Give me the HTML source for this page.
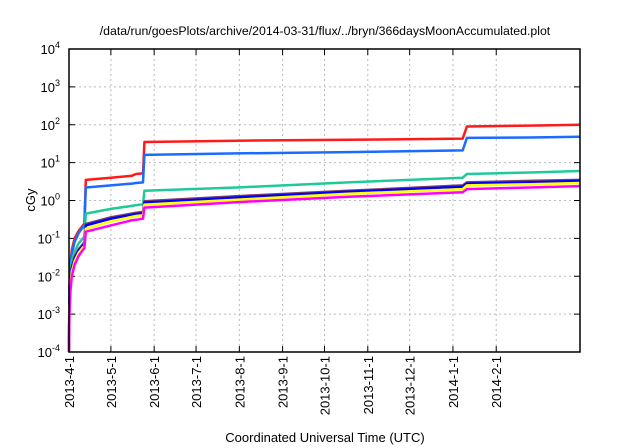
<!DOCTYPE html>
<html><head><meta charset="utf-8"><style>
body{margin:0;background:#fff;}
svg{display:block;font-family:"Liberation Sans",sans-serif;}
</style></head><body>
<svg id="chart" width="640" height="448"></svg>
<script>
const days=[0,0.3,1,2,4,7,10,11,12,30,45,48,53,54,120,200,282,285,330,366];
const redVals=[1e-4,0.005,0.02,0.05,0.1,0.16,0.22,0.25,3.5,4.0,4.5,5.0,5.2,35,38,40,43,90,95,100];
const blueVals=[1e-4,0.004,0.016,0.04,0.08,0.14,0.2,0.22,2.2,2.5,2.8,2.9,3.0,16,17.5,19,21,45,46,48];
const greenVals=[1e-4,0.003,0.012,0.025,0.045,0.075,0.1,0.11,0.45,0.6,0.72,0.75,0.8,1.8,2.2,3.0,4.0,5.0,5.5,6.0];
const brownVals=[1e-4,0.002,0.008,0.018,0.032,0.052,0.07,0.08,0.24,0.36,0.45,0.47,0.5,0.95,1.3,1.8,2.5,3.0,3.3,3.5];
const dblueVals=[1e-4,0.002,0.007,0.016,0.029,0.048,0.065,0.07,0.22,0.33,0.42,0.44,0.46,0.88,1.2,1.7,2.3,2.8,3.0,3.3];
const yellowVals=[1e-4,0.0015,0.006,0.013,0.025,0.042,0.058,0.062,0.18,0.28,0.37,0.39,0.41,0.78,1.05,1.5,2.0,2.5,2.7,2.9];
const magentaVals=[1e-4,0.001,0.004,0.01,0.02,0.035,0.05,0.055,0.15,0.22,0.3,0.31,0.33,0.65,0.9,1.25,1.65,2.0,2.2,2.4];
const seriesNames=['red','blue','green','brown','dark-blue','yellow','magenta'];
const seriesVals=[redVals,blueVals,greenVals,brownVals,dblueVals,yellowVals,magentaVals];
const seriesColors=['#ff1a1a','#1a6cff','#20c99a','#7a3a6a','#0000ff','#ffff00','#ff00ff'];
const monthLabels=['2013-4-1','2013-5-1','2013-6-1','2013-7-1','2013-8-1','2013-9-1','2013-10-1','2013-11-1','2013-12-1','2014-1-1','2014-2-1'];
const monthDays=[0,30,61,91,122,153,183,214,244,275,306];
const yExps=[-4,-3,-2,-1,0,1,2,3,4];

const L=69,R=580,T=49,B=352,DMAX=366;
const xS=d=>L+(R-L)*d/DMAX;
const yS=v=>T+(B-T)*(4-Math.log10(v))/8;
const svg=document.getElementById('chart');
const NS='http://www.w3.org/2000/svg';
function mk(tag,attrs,parent){const e=document.createElementNS(NS,tag);for(const k in attrs)e.setAttribute(k,attrs[k]);(parent||svg).appendChild(e);return e;}

const title=mk('text',{x:325,y:35,'text-anchor':'middle','font-size':12.3});
title.textContent='/data/run/goesPlots/archive/2014-03-31/flux/../bryn/366daysMoonAccumulated.plot';



yExps.forEach(e=>{
  const y=yS(Math.pow(10,e));
  if(e>-4&&e<4){const g=mk('line',{x1:L,x2:R,y1:y,y2:y,stroke:'#bbb','stroke-dasharray':'2,3','stroke-width':1});
  }
  mk('line',{x1:L,x2:L+6,y1:y,y2:y,stroke:'#000'});mk('line',{x1:R-6,x2:R,y1:y,y2:y,stroke:'#000'});
  const t=mk('text',{x:60,y:y+5,'text-anchor':'end','font-size':13});
  
  const b=mk('tspan',{},t);b.textContent='10';
  const s=mk('tspan',{dy:-6,'font-size':9},t);s.textContent=String(e);
});
monthDays.forEach((d,i)=>{
  const x=xS(d);
  if(i>0){const g=mk('line',{x1:x,x2:x,y1:T,y2:B,stroke:'#bbb','stroke-dasharray':'2,3'});
  }
  mk('line',{x1:x,x2:x,y1:B-6,y2:B,stroke:'#000'});mk('line',{x1:x,x2:x,y1:T,y2:T+6,stroke:'#000'});
  const t=mk('text',{x:x+5,y:B+4,'text-anchor':'end','font-size':13,transform:`rotate(-90 ${x+5} ${B+4})`});
  t.textContent=monthLabels[i];
  
});
seriesVals.forEach((vals,i)=>{
  const pts=days.map((d,j)=>xS(d).toFixed(1)+','+yS(vals[j]).toFixed(1)).join(' ');
  const p=mk('polyline',{points:pts,fill:'none',stroke:seriesColors[i],'stroke-width':2.5,'stroke-linejoin':'round'});
  
  
});
const frame=mk('rect',{x:L,y:T,width:R-L,height:B-T,fill:'none',stroke:'#000','stroke-width':1.5});

const yl=mk('text',{x:35,y:200,'text-anchor':'middle','font-size':13,transform:'rotate(-90 35 200)'});
yl.textContent='cGy';
const xl=mk('text',{x:325,y:442,'text-anchor':'middle','font-size':13});
xl.textContent='Coordinated Universal Time (UTC)';
</script>
</body></html>
